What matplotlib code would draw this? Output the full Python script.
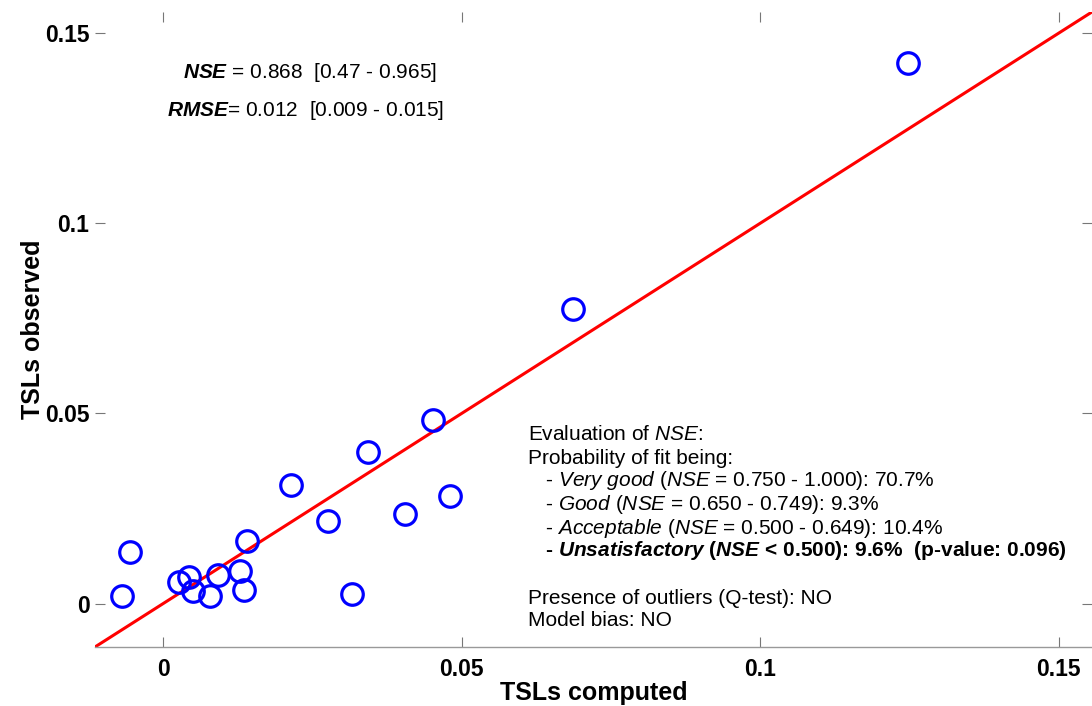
import matplotlib
matplotlib.use("Agg")
import matplotlib.pyplot as plt
import numpy as np

plt.rcParams['font.family'] = ['Liberation Sans', 'DejaVu Sans']
plt.rcParams['mathtext.fontset'] = 'custom'
plt.rcParams['mathtext.rm'] = 'Liberation Sans'
plt.rcParams['mathtext.it'] = 'Liberation Sans:italic'
plt.rcParams['mathtext.bf'] = 'Liberation Sans:bold'
plt.rcParams['mathtext.bfit'] = 'Liberation Sans:bold:italic'

# TSLs computed vs observed
computed = [0.1248, 0.0687, 0.0452, 0.0343, 0.0481, 0.0214, 0.0276, 0.0405,
            0.0317, 0.0141, -0.0055, -0.0069, 0.0129, 0.0136, 0.0092, 0.0079,
            0.0050, 0.0044, 0.0027]
observed = [0.1422, 0.0776, 0.0483, 0.0398, 0.0282, 0.0311, 0.0216, 0.0235,
            0.0026, 0.0164, 0.0135, 0.0021, 0.0087, 0.0037, 0.0074, 0.0021,
            0.0034, 0.0071, 0.0058]

ticks = [0, 0.05, 0.1, 0.15]
tick_labels = ['0', '0.05', '0.1', '0.15']
lims = [-0.0114, 0.1556]

fig = plt.figure(figsize=(10.92, 7.06), dpi=100)
ax = fig.add_axes([0.087, 0.0836, 0.913, 0.8995])

# 1:1 line
ax.plot(lims, lims, color='red', lw=2.2, zorder=2)
ax.plot(computed, observed, 'o', ms=15.5, mfc='none', mec='blue', mew=2.3, zorder=3)

ax.set_xlim(lims)
ax.set_ylim(lims)
ax.set_xticks(ticks)
ax.set_xticklabels(tick_labels)
ax.set_yticks(ticks)
ax.set_yticklabels(tick_labels)
for lab in ax.get_xticklabels() + ax.get_yticklabels():
    lab.set_fontweight('bold')
    lab.set_fontsize(16.5)

ax.tick_params(axis='x', direction='in', top=True, length=7, width=0.8,
               color='#777777', pad=8)
ax.tick_params(axis='y', direction='in', right=True, length=7, width=0.8,
               color='#777777', pad=4)
for s in ['top', 'left', 'right']:
    ax.spines[s].set_visible(False)
ax.spines['bottom'].set_color('#999999')
ax.spines['bottom'].set_linewidth(1.0)

ax.set_xlabel('TSLs computed', fontsize=18, fontweight='bold', labelpad=0)
ax.set_ylabel('TSLs observed', fontsize=18, fontweight='bold', labelpad=0)

# goodness-of-fit stats
fs = 15
ax.text(183, 706 - 73, r'$\mathbfit{NSE}$ = 0.868  [0.47 - 0.965]',
        transform=None, fontsize=fs, va='center', ha='left')
ax.text(167, 706 - 110, r'$\mathbfit{RMSE}$= 0.012  [0.009 - 0.015]',
        transform=None, fontsize=fs, va='center', ha='left')

lines = [
    r'Evaluation of $\mathit{NSE}$:',
    r'Probability of fit being:',
    r'   - $\mathit{Very\ good}$ ($\mathit{NSE}$ = 0.750 - 1.000): 70.7%',
    r'   - $\mathit{Good}$ ($\mathit{NSE}$ = 0.650 - 0.749): 9.3%',
    r'   - $\mathit{Acceptable}$ ($\mathit{NSE}$ = 0.500 - 0.649): 10.4%',
    r'   - $\mathbfit{Unsatisfactory}$ ($\mathbfit{NSE}$ < 0.500): 9.6%  (p-value: 0.096)',
    '',
    'Presence of outliers (Q-test): NO',
    'Model bias: NO',
]
ys = [435, 458, 481, 505, 528, 550, 574, 598, 621]
for i, (t, y) in enumerate(zip(lines, ys)):
    if not t:
        continue
    ax.text(528, 706 - y, t, transform=None, fontsize=fs, va='center', ha='left',
            fontweight='bold' if i == 5 else 'normal')

fig.savefig('out.png', dpi=100)
